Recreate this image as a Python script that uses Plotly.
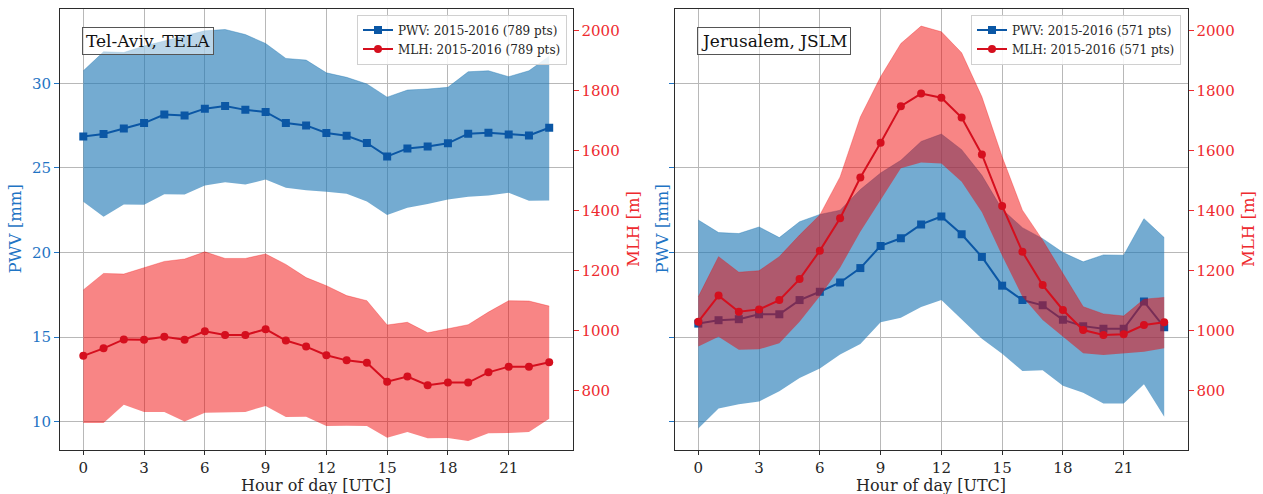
import plotly.graph_objects as go

W, H = 1263, 494
FONT = "DejaVu Serif"

hours = list(range(24))
hour_ticks = [0, 3, 6, 9, 12, 15, 18, 21]
pwv_ticks = [10, 15, 20, 25, 30]
mlh_ticks = [800, 1000, 1200, 1400, 1600, 1800, 2000]

# Tel-Aviv (TELA): hourly mean and +/- spread
tela_pwv_mean = [26.86, 27.00, 27.33, 27.65, 28.15, 28.10, 28.50, 28.66, 28.43, 28.31, 27.65, 27.51,
                 27.06, 26.90, 26.47, 25.68, 26.15, 26.27, 26.45, 27.02, 27.08, 26.98, 26.92, 27.37]
tela_pwv_hi = [30.74, 31.86, 31.82, 32.20, 32.50, 32.80, 33.10, 33.18, 32.88, 32.35, 31.47, 31.37,
               30.62, 30.35, 29.96, 29.18, 29.60, 29.66, 29.76, 30.68, 30.74, 30.39, 30.74, 31.60]
tela_pwv_lo = [23.00, 22.12, 22.84, 22.82, 23.45, 23.43, 23.96, 24.15, 24.02, 24.31, 23.82, 23.68,
               23.59, 23.47, 23.02, 22.21, 22.65, 22.86, 23.13, 23.29, 23.37, 23.53, 23.06, 23.08]
tela_mlh_mean = [916, 941, 971, 970, 980, 970, 998, 986, 986, 1005, 967, 947,
                 918, 901, 893, 830, 847, 818, 827, 827, 861, 880, 880, 895]
tela_mlh_hi = [1136, 1191, 1189, 1210, 1231, 1239, 1263, 1241, 1241, 1256, 1221, 1177,
               1150, 1117, 1100, 1019, 1028, 993, 1007, 1020, 1062, 1100, 1099, 1082]
tela_mlh_lo = [692, 692, 753, 729, 729, 697, 726, 727, 729, 749, 712, 713,
               682, 683, 682, 643, 662, 641, 642, 632, 658, 659, 662, 706]

# Jerusalem (JSLM): hourly mean and +/- spread
jslm_pwv_mean = [15.80, 16.00, 16.06, 16.35, 16.35, 17.19, 17.68, 18.23, 19.08, 20.39, 20.84, 21.66,
                 22.13, 21.08, 19.74, 18.04, 17.19, 16.88, 16.02, 15.65, 15.49, 15.49, 17.10, 15.59]
jslm_pwv_hi = [21.92, 21.18, 21.12, 21.51, 20.88, 21.82, 22.25, 22.50, 23.72, 24.70, 25.45, 26.56,
               27.00, 26.08, 24.56, 22.55, 21.47, 20.82, 20.00, 19.45, 19.86, 19.84, 22.00, 20.88]
jslm_pwv_lo = [9.60, 10.78, 11.04, 11.19, 11.80, 12.59, 13.14, 13.98, 14.59, 15.88, 16.14, 16.78,
               17.19, 16.02, 14.90, 14.02, 13.00, 13.04, 12.12, 11.71, 11.08, 11.08, 12.21, 10.29]
jslm_mlh_mean = [1030, 1117, 1063, 1071, 1102, 1172, 1267, 1375, 1511, 1627, 1749, 1791,
                 1777, 1711, 1588, 1416, 1263, 1152, 1069, 1002, 986, 988, 1019, 1028]
jslm_mlh_hi = [1113, 1247, 1195, 1200, 1247, 1319, 1386, 1513, 1713, 1847, 1958, 2016,
               1997, 1927, 1780, 1580, 1402, 1302, 1191, 1080, 1056, 1049, 1105, 1111]
jslm_mlh_lo = [947, 980, 936, 938, 958, 1030, 1115, 1210, 1330, 1436, 1542, 1561,
               1558, 1497, 1395, 1250, 1113, 1036, 980, 925, 919, 925, 930, 941]

stations = [
    dict(label="Tel-Aviv, TELA", npts=789,
         pwv=(tela_pwv_mean, tela_pwv_lo, tela_pwv_hi), mlh=(tela_mlh_mean, tela_mlh_lo, tela_mlh_hi)),
    dict(label="Jerusalem, JSLM", npts=571,
         pwv=(jslm_pwv_mean, jslm_pwv_lo, jslm_pwv_hi), mlh=(jslm_mlh_mean, jslm_mlh_lo, jslm_mlh_hi)),
]

BLUE_FILL = "rgba(31,119,180,0.62)"
RED_FILL = "rgba(240,0,0,0.48)"
BLUE_LINE = "#0b57a5"
RED_LINE = "#d50f1e"
BLUE_TXT = "#1f74c4"
RED_TXT = "#ee2a2e"
SPINE = "#2b2b2b"
GRID = "#b8b8b8"
TEXT = "#262626"


def px_x(p):
    return p / W


def px_y(p):
    return 1 - p / H


fig = go.Figure()

axis_ids = [("x", "y", "y2", "legend"), ("x2", "y3", "y4", "legend2")]
for st, (xa, ya, ya2, lg) in zip(stations, axis_ids):
    pm, plo, phi = st["pwv"]
    mm, mlo, mhi = st["mlh"]
    # PWV spread band + mean line (left axis)
    fig.add_trace(go.Scatter(x=hours, y=plo, mode="lines", line=dict(width=0, color=BLUE_FILL),
                             xaxis=xa, yaxis=ya, showlegend=False, hoverinfo="skip"))
    fig.add_trace(go.Scatter(x=hours, y=phi, mode="lines", line=dict(width=0.6, color=BLUE_FILL),
                             fill="tonexty", fillcolor=BLUE_FILL,
                             xaxis=xa, yaxis=ya, showlegend=False, hoverinfo="skip"))
    fig.add_trace(go.Scatter(x=hours, y=pm, mode="lines+markers",
                             name=f"PWV: 2015-2016 ({st['npts']} pts)",
                             line=dict(color=BLUE_LINE, width=2),
                             marker=dict(symbol="square", size=8, color=BLUE_LINE),
                             xaxis=xa, yaxis=ya, legend=lg, legendrank=1))
    # MLH spread band + mean line (right axis)
    fig.add_trace(go.Scatter(x=hours, y=mlo, mode="lines", line=dict(width=0, color=RED_FILL),
                             xaxis=xa, yaxis=ya2, showlegend=False, hoverinfo="skip"))
    fig.add_trace(go.Scatter(x=hours, y=mhi, mode="lines", line=dict(width=0.6, color=RED_FILL),
                             fill="tonexty", fillcolor=RED_FILL,
                             xaxis=xa, yaxis=ya2, showlegend=False, hoverinfo="skip"))
    fig.add_trace(go.Scatter(x=hours, y=mm, mode="lines+markers",
                             name=f"MLH: 2015-2016 ({st['npts']} pts)",
                             line=dict(color=RED_LINE, width=2),
                             marker=dict(symbol="circle", size=8, color=RED_LINE),
                             xaxis=xa, yaxis=ya2, legend=lg, legendrank=2))

ydom = [px_y(450), px_y(9)]
xdoms = [[px_x(60), px_x(572.5)], [px_x(675), px_x(1187.5)]]

tick_font = dict(family=FONT, size=15, color=TEXT)


def xaxis_cfg(dom, anchor):
    return dict(domain=dom, anchor=anchor, range=[-1.15, 24.15], tickvals=hour_ticks,
                showgrid=True, gridcolor=GRID, gridwidth=1, zeroline=False,
                showline=True, linecolor=SPINE, linewidth=1, mirror=True,
                ticks="outside", ticklen=4, tickcolor=SPINE, tickfont=tick_font, automargin=False)


def ypwv_cfg(anchor, labels):
    return dict(domain=ydom, anchor=anchor, range=[8.33, 34.39], tickvals=pwv_ticks,
                showticklabels=labels, showgrid=True, gridcolor=GRID, gridwidth=1, zeroline=False,
                showline=True, linecolor=SPINE, linewidth=1,
                ticks="outside", ticklen=5, tickcolor=BLUE_TXT,
                tickfont=dict(family=FONT, size=15, color=BLUE_TXT), automargin=False)


def ymlh_cfg(over, anchor):
    return dict(overlaying=over, side="right", anchor=anchor, range=[602, 2073], tickvals=mlh_ticks,
                showgrid=False, zeroline=False, showline=True, linecolor=SPINE, linewidth=1,
                ticks="outside", ticklen=5, tickcolor=RED_TXT,
                tickfont=dict(family=FONT, size=15, color=RED_TXT), automargin=False)


legend_common = dict(bgcolor="rgba(255,255,255,0.85)", bordercolor="#d0d0d0", borderwidth=1,
                     font=dict(family=FONT, size=12, color=TEXT), xanchor="right", yanchor="top",
                     traceorder="normal", tracegroupgap=0, itemwidth=30)

annotations = []
for i, st in enumerate(stations):
    x0, x1 = (60, 572.5) if i == 0 else (675, 1187.5)
    cx = (x0 + x1) / 2
    # station name box
    annotations.append(dict(text=st["label"], xref="paper", yref="paper",
                            x=px_x(x0 + 22), y=px_y(27), xanchor="left", yanchor="top",
                            showarrow=False, font=dict(family=FONT, size=17, color="#111"),
                            bgcolor="rgba(255,255,255,0.5)", bordercolor="#555", borderwidth=1,
                            borderpad=3))
    # x-axis title
    annotations.append(dict(text="Hour of day [UTC]", xref="paper", yref="paper",
                            x=px_x(cx), y=px_y(485.5), xanchor="center", yanchor="middle",
                            showarrow=False, font=dict(family=FONT, size=16, color=TEXT)))
    # left (PWV) title
    annotations.append(dict(text="PWV [mm]", xref="paper", yref="paper",
                            x=px_x(15 if i == 0 else 662), y=px_y(229.5), textangle=-90,
                            xanchor="center", yanchor="middle", showarrow=False,
                            font=dict(family=FONT, size=16.5, color=BLUE_TXT)))
    # right (MLH) title
    annotations.append(dict(text="MLH [m]", xref="paper", yref="paper",
                            x=px_x(x1 + 61), y=px_y(229.5), textangle=-90,
                            xanchor="center", yanchor="middle", showarrow=False,
                            font=dict(family=FONT, size=16.5, color=RED_TXT)))

fig.update_layout(
    width=W, height=H,
    margin=dict(l=0, r=0, t=0, b=0),
    paper_bgcolor="white", plot_bgcolor="white",
    xaxis=xaxis_cfg(xdoms[0], "y"),
    yaxis=ypwv_cfg("x", True),
    yaxis2=ymlh_cfg("y", "x"),
    xaxis2=xaxis_cfg(xdoms[1], "y3"),
    yaxis3=ypwv_cfg("x2", False),
    yaxis4=ymlh_cfg("y3", "x2"),
    legend=dict(x=px_x(567), y=px_y(14.5), **legend_common),
    legend2=dict(x=px_x(1181), y=px_y(14.5), **legend_common),
    annotations=annotations,
    showlegend=True,
    font=dict(family=FONT),
)

fig.write_html("out.html")
